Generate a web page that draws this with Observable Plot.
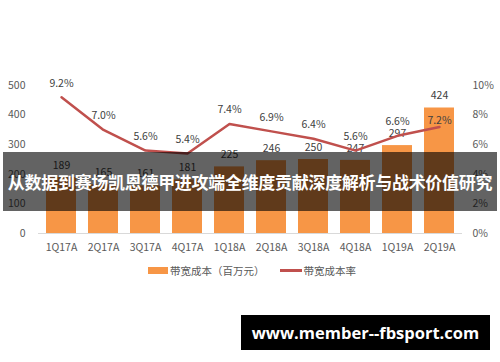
<!DOCTYPE html>
<html><head><meta charset="utf-8">
<script src="https://cdn.jsdelivr.net/npm/d3@7"></script>
<script src="https://cdn.jsdelivr.net/npm/@observablehq/plot@0.6"></script>
<style>
body{margin:0;background:#fff;font-family:"Noto Sans CJK SC","Open Sans",sans-serif;}
#wrap{position:relative;width:500px;height:362px;overflow:hidden;}
#legend{position:absolute;top:263px;left:0;width:500px;display:flex;justify-content:center;align-items:center;font-size:10.5px;color:#595959;padding-left:4px;box-sizing:border-box;white-space:nowrap;}
.sw{display:inline-block;margin-right:2px;}
#banner{position:absolute;left:3px;top:152px;width:494px;height:59px;background:rgba(0,0,0,0.61);color:#fff;font-weight:bold;font-size:17px;display:flex;align-items:center;justify-content:center;white-space:nowrap;letter-spacing:-0.3px;}
#wm{position:absolute;left:241px;top:315px;width:249px;height:35px;background:#000;color:#fff;font-family:"Open Sans",sans-serif;font-weight:bold;font-size:16.5px;display:flex;align-items:center;justify-content:center;}
</style></head>
<body><div id="wrap"><div id="chart"></div>
<div id="legend"><span class="sw" style="width:20px;height:7px;background:#F79646"></span><span style="display:inline-block;min-width:92px;white-space:nowrap">带宽成本（百万元）</span><span class="sw" style="width:22px;height:2.5px;background:#C0504D;margin-left:15px"></span><span>带宽成本率</span></div>
<div id="banner">从数据到赛场凯恩德甲进攻端全维度贡献深度解析与战术价值研究</div>
<div id="wm">www.member--fbsport.com</div>
</div>
<script>
const quarters = ["1Q17A","2Q17A","3Q17A","4Q17A","1Q18A","2Q18A","3Q18A","4Q18A","1Q19A","2Q19A"];
const cost = [189,165,161,181,225,246,250,247,297,424];
const rate = [9.2,7.0,5.6,5.4,7.4,6.9,6.4,5.6,6.6,7.2];
const leftTicks = [0,100,200,300,400,500];
const rightTicks = [0,2,4,6,8,10];
const scale = 50; // 10% maps to 500
const data = quarters.map((q,i)=>({q, cost:cost[i], rate:rate[i], ry:rate[i]*scale, last:i===quarters.length-1}));
const plot = Plot.plot({
  width:500, height:260, marginTop:85, marginBottom:27, marginLeft:38, marginRight:38,
  style:{fontFamily:'"Noto Sans CJK SC","Open Sans",sans-serif', fontSize:"10.5px", color:"#595959"},
  x:{domain:quarters, paddingInner:0.29, paddingOuter:0.145},
  y:{domain:[0,500]},
  marks:[
    Plot.barY(data,{x:"q",y:"cost",fill:"#F79646"}),
    Plot.ruleY([0],{stroke:"#D9D9D9"}),
    Plot.axisX({tickSize:0, tickPadding:10, label:null, fontSize:10.5}),
    Plot.axisY({ticks:leftTicks, tickSize:0, tickPadding:13, label:null}),
    Plot.axisY({anchor:"right", ticks:rightTicks.map(d=>d*scale), tickFormat:d=>(d/scale)+"%", tickSize:0, tickPadding:10, label:null, textAnchor:"start"}),
    Plot.text(data,{x:"q",y:"cost",text:d=>String(d.cost),dy:-12,fill:"#404040",fontSize:10.5}),
    Plot.line(data,{x:"q",y:"ry",stroke:"#C0504D",strokeWidth:2.5,curve:"linear"}),
    Plot.text(data.filter(d=>!d.last),{x:"q",y:"ry",text:d=>d.rate.toFixed(1)+"%",dy:-14,fill:"#404040",fontSize:10.5}),
    Plot.text(data.filter(d=>d.last),{x:"q",y:"ry",text:d=>d.rate.toFixed(1)+"%",dy:-6,fill:"#404040",fontSize:10.5})
  ]
});
document.getElementById("chart").appendChild(plot);
</script></body></html>
